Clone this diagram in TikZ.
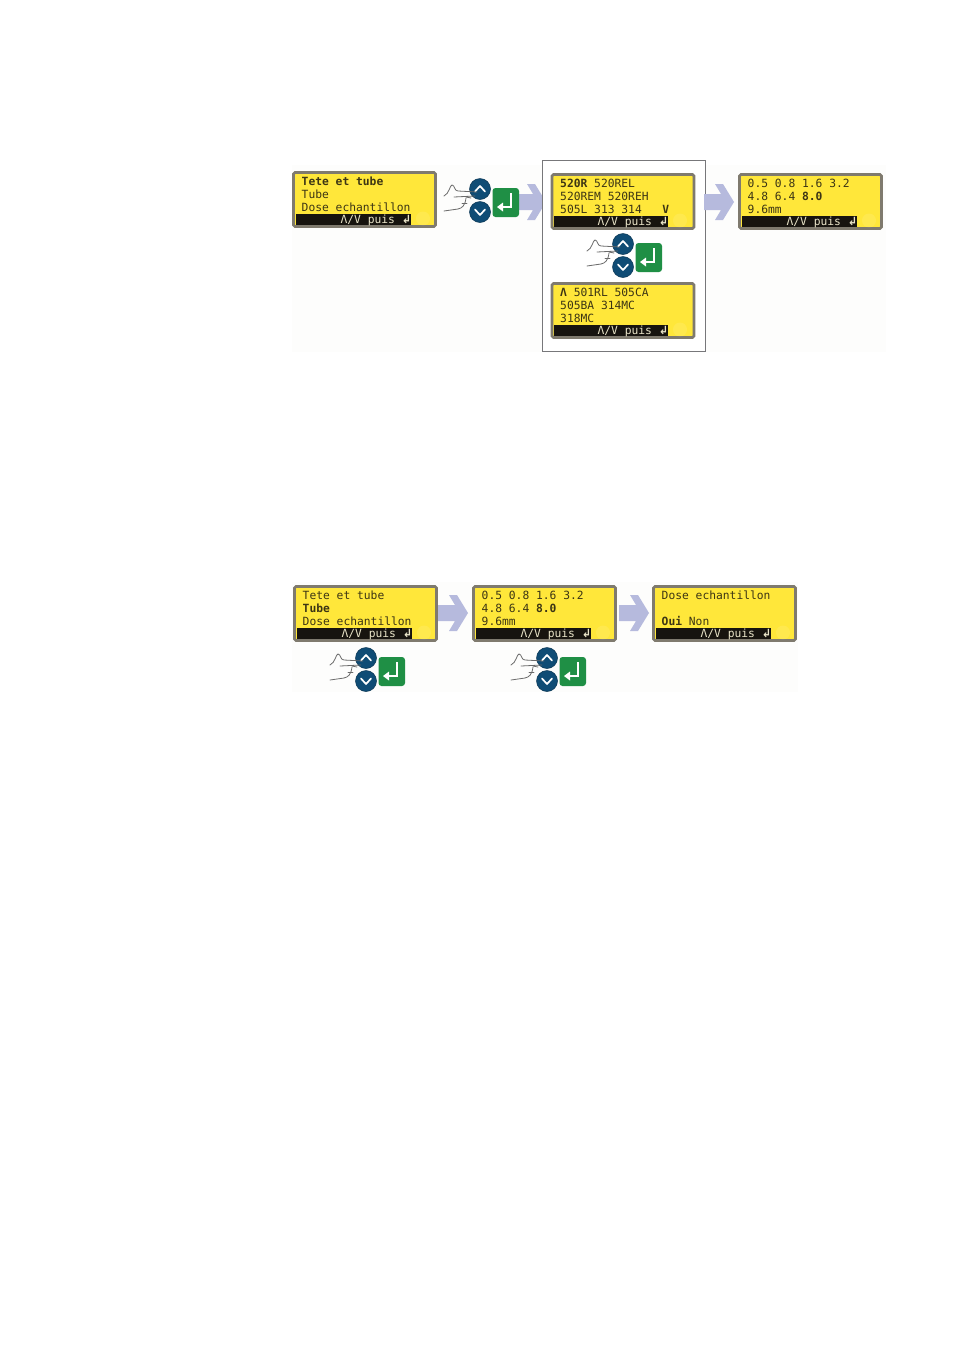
\documentclass[tikz,border=0pt]{standalone}
\usepackage{fontspec}
\setmonofont{DejaVu Sans Mono}
\newfontfamily\symfont{DejaVu Sans}
\definecolor{lcdyellow}{HTML}{FFE73A}
\definecolor{lcdframe}{HTML}{7F7A6E}
\definecolor{lcdink}{HTML}{3C3514}
\definecolor{barblack}{HTML}{17140F}
\definecolor{barink}{HTML}{E9E4C8}
\definecolor{arrowblue}{HTML}{B6BADD}
\definecolor{keyblue}{HTML}{0F4C75}
\definecolor{keygreen}{HTML}{1F8F45}
\definecolor{boxgrey}{HTML}{77777A}
\definecolor{handgrey}{HTML}{6A6A6A}
\definecolor{paper}{HTML}{FDFDFC}
\tikzset{
  lcdbody/.style={draw=lcdframe,line width=2.6pt,fill=lcdyellow,rounded corners=1.5pt},
  lcdline/.style={anchor=base west,inner sep=0pt,text=lcdink,font=\ttfamily\fontsize{11.3}{12}\selectfont},
  barline/.style={anchor=base east,inner sep=0pt,text=barink,font=\ttfamily\fontsize{11.3}{12}\selectfont},
  keybtn/.style={circle,fill=keyblue,draw=keyblue!70!black,line width=.5pt,minimum size=21pt,inner sep=0pt},
  keychev/.style={draw=white,line width=1.7pt,line cap=round,line join=round},
  entbox/.style={fill=keygreen,rounded corners=3pt},
  handline/.style={draw=handgrey,line width=.8pt,line cap=round,line join=round},
  flow/.style={fill=arrowblue},
}
% name, left, top, bar right end, text inset, three lines
\newcommand\lcdpanel[8]{%
  \draw[lcdbody] (#2,#3) rectangle ++(142,54);
  \fill[barblack] (#2+2,#3+41.5) rectangle (#4,#3+52.5);
  \fill[white,opacity=.10] (#4+12,#3+46) circle (7);
  \node[lcdline] (#1-a) at (#2+#5,#3+12.5) {#6};
  \node[lcdline] (#1-b) at (#2+#5,#3+25.5) {#7};
  \node[lcdline] (#1-c) at (#2+#5,#3+38.5) {#8};
  \node[barline] (#1-bar) at (#4+.5,#3+50.5) {Λ/V puis {\symfont\bfseries ↲}};
}
% name, up-button centre x, y
\newcommand\keypad[3]{%
  \node[keybtn] (#1-up) at (#2,#3) {};
  \node[keybtn] (#1-dn) at (#2,#3+23) {};
  \draw[keychev] (#2-5,#3+2.5) -- (#2,#3-3) -- (#2+5,#3+2.5);
  \draw[keychev] (#2-5,#3+20.5) -- (#2,#3+26) -- (#2+5,#3+20.5);
  \fill[entbox] (#2+12.5,#3-1) rectangle (#2+39,#3+28);
  \draw[white,line width=2.4pt,line join=miter] (#2+31,#3+4) -- (#2+31,#3+18) -- (#2+21,#3+18);
  \fill[white] (#2+17,#3+18) -- (#2+23,#3+13.5) -- (#2+23,#3+22.5) -- cycle;
  \path[handline] (#2-36,#3+7) .. controls (#2-31,#3+5) and (#2-30,#3-4) .. (#2-28,#3-4)
     .. controls (#2-25,#3-4) and (#2-26,#3+2) .. (#2-22,#3+2) -- (#2-3,#3+3);
  \path[handline] (#2-26,#3+8) -- (#2-5,#3+7) (#2-14,#3+8) -- (#2-9,#3+9);
  \path[handline] (#2-36,#3+22) -- (#2-22,#3+20) .. controls (#2-18,#3+19) and (#2-15,#3+17) .. (#2-14,#3+9);
  \path[handline] (#2-18,#3+14) -- (#2-13,#3+14);
}
% flow arrow: tip x, centre y
\newcommand\flowarrow[2]{%
  \fill[flow] (#1-30,#2-8) -- (#1-13,#2-8) -- (#1-19,#2-18) -- (#1-11,#2-18) -- (#1,#2)
     -- (#1-11,#2+18) -- (#1-19,#2+18) -- (#1-13,#2+8) -- (#1-30,#2+8) -- cycle;
}
\begin{document}
\begin{tikzpicture}[x=1pt,y=-1pt]
\useasboundingbox (0,0) rectangle (954,1350);
\fill[white] (0,0) rectangle (954,1350);
\fill[paper] (292,165) rectangle (886,352);
\fill[paper] (292,582) rectangle (798,692);

\flowarrow{546}{202}
\lcdpanel{a}{293.5}{172.5}{411}{8}{\textbf{Tete et tube}}{Tube}{Dose echantillon}
\keypad{k1}{480}{189}

\draw[boxgrey,fill=white,line width=1pt] (542,160.5) rectangle (705,351);
\lcdpanel{b}{552}{174.5}{668}{8}{\textbf{520R} 520REL}{520REM 520REH}{505L 313 314\ \ \ \textbf{V}}
\keypad{k2}{623}{244}
\lcdpanel{c}{552}{283.5}{668}{8}{\textbf{Λ} 501RL 505CA}{505BA 314MC}{318MC}

\flowarrow{734}{202}
\lcdpanel{d}{739.5}{174.5}{857}{8}{0.5 0.8 1.6 3.2}{4.8 6.4 \textbf{8.0}}{9.6mm}

\lcdpanel{e}{294.5}{586.5}{412}{8}{Tete et tube}{\textbf{Tube}}{Dose echantillon}
\flowarrow{468}{613}
\lcdpanel{f}{473.5}{586.5}{591}{8}{0.5 0.8 1.6 3.2}{4.8 6.4 \textbf{8.0}}{9.6mm}
\flowarrow{649}{613}
\lcdpanel{g}{653.5}{586.5}{771}{8}{Dose echantillon}{}{\textbf{Oui} Non}

\keypad{k3}{366}{658}
\keypad{k4}{547}{658}
\end{tikzpicture}
\end{document}
